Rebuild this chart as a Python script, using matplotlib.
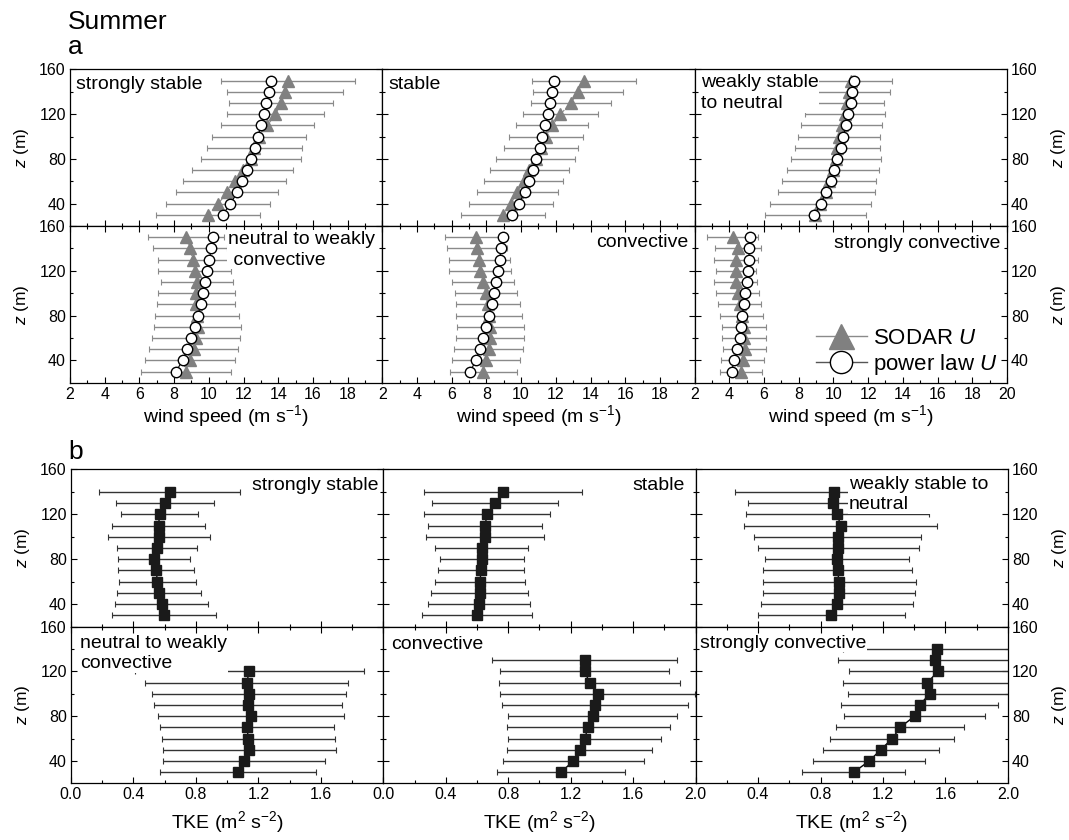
import matplotlib
matplotlib.use("Agg")
import matplotlib.pyplot as plt
from matplotlib.lines import Line2D
from matplotlib.ticker import MultipleLocator, FixedLocator

plt.rcParams['font.family'] = ['Liberation Sans', 'DejaVu Sans']
plt.rcParams['mathtext.fontset'] = 'custom'
plt.rcParams['mathtext.rm'] = 'Liberation Sans'
plt.rcParams['mathtext.it'] = 'Liberation Sans:italic'

# ---------------- data ----------------
heights_a = [30, 40, 50, 60, 70, 80, 90, 100, 110, 120, 130, 140, 150]
heights_b = [30, 40, 50, 60, 70, 80, 90, 100, 110, 120, 130, 140]

classes = ["strongly stable", "stable", "weakly stable to neutral",
           "neutral to weakly convective", "convective", "strongly convective"]

# Panel a: wind speed (m/s)
sodar_strongly_stable = [9.96, 10.54, 11.07, 11.5, 11.95, 12.42, 12.61, 12.89, 13.38, 13.84, 14.18, 14.4, 14.54]
sodar_err_strongly_stable = [3.0, 2.99, 2.94, 2.96, 2.9, 2.87, 2.74, 2.71, 2.69, 2.79, 3.0, 3.34, 3.86]
power_strongly_stable = [10.79, 11.25, 11.64, 11.92, 12.19, 12.42, 12.65, 12.82, 13.02, 13.17, 13.32, 13.46, 13.59]

sodar_stable = [8.95, 9.41, 9.78, 10.14, 10.48, 10.83, 11.15, 11.44, 11.8, 12.26, 12.88, 13.27, 13.6]
sodar_err_stable = [2.41, 2.4, 2.35, 2.3, 2.29, 2.27, 2.14, 2.14, 2.08, 2.17, 2.32, 2.6, 3.0]
power_stable = [9.47, 9.87, 10.2, 10.46, 10.68, 10.87, 11.08, 11.23, 11.4, 11.54, 11.67, 11.79, 11.88]

sodar_weakly_stable = [8.95, 9.25, 9.58, 9.75, 9.97, 10.16, 10.22, 10.33, 10.47, 10.65, 10.76, 10.9, 11.0]
sodar_err_weakly_stable = [2.91, 2.89, 2.79, 2.73, 2.66, 2.58, 2.44, 2.36, 2.34, 2.3, 2.16, 2.35, 2.4]
power_weakly_stable = [8.9, 9.28, 9.57, 9.84, 10.05, 10.22, 10.41, 10.57, 10.72, 10.86, 10.99, 11.1, 11.2]

sodar_neutral = [8.69, 8.92, 9.12, 9.24, 9.36, 9.32, 9.25, 9.29, 9.32, 9.18, 9.08, 8.91, 8.68]
sodar_err_neutral = [2.6, 2.6, 2.59, 2.53, 2.49, 2.42, 2.25, 2.22, 2.1, 2.1, 2.03, 2.12, 2.17]
power_neutral = [8.11, 8.49, 8.76, 8.99, 9.2, 9.38, 9.53, 9.66, 9.78, 9.91, 10.03, 10.14, 10.24]

sodar_convective = [7.83, 7.99, 8.13, 8.22, 8.23, 8.15, 8.07, 7.98, 7.81, 7.65, 7.6, 7.46, 7.42]
sodar_err_convective = [1.92, 1.95, 1.97, 1.95, 1.93, 1.88, 1.84, 1.78, 1.77, 1.78, 1.74, 1.73, 1.79]
power_convective = [7.07, 7.39, 7.62, 7.83, 7.99, 8.14, 8.3, 8.41, 8.53, 8.66, 8.76, 8.85, 8.93]

sodar_strongly_conv = [4.68, 4.78, 4.88, 4.86, 4.84, 4.72, 4.6, 4.48, 4.36, 4.39, 4.38, 4.5, 4.2]
sodar_err_strongly_conv = [1.22, 1.23, 1.23, 1.26, 1.28, 1.23, 1.25, 1.25, 1.23, 1.13, 1.28, 1.3, 1.47]
power_strongly_conv = [4.13, 4.28, 4.47, 4.61, 4.68, 4.74, 4.84, 4.91, 5.01, 5.07, 5.12, 5.16, 5.22]

# Panel b: TKE (m2/s2)
tke_strongly_stable = [0.595, 0.58, 0.563, 0.553, 0.546, 0.53, 0.552, 0.565, 0.561, 0.567, 0.602, 0.633]
tke_err_strongly_stable = [0.334, 0.3, 0.268, 0.246, 0.244, 0.229, 0.257, 0.327, 0.3, 0.245, 0.315, 0.451]
tke_stable = [0.6, 0.613, 0.617, 0.619, 0.626, 0.632, 0.629, 0.651, 0.652, 0.664, 0.716, 0.767]
tke_err_stable = [0.351, 0.329, 0.312, 0.287, 0.274, 0.272, 0.296, 0.376, 0.366, 0.401, 0.405, 0.506]
tke_weakly_stable = [0.87, 0.906, 0.919, 0.919, 0.909, 0.905, 0.914, 0.911, 0.928, 0.908, 0.883, 0.887]
tke_err_weakly_stable = [0.472, 0.485, 0.485, 0.49, 0.479, 0.46, 0.515, 0.535, 0.619, 0.587, 0.549, 0.632]
tke_neutral = [1.07, 1.11, 1.142, 1.135, 1.128, 1.153, 1.133, 1.141, 1.124, 1.143]
tke_err_neutral = [0.498, 0.518, 0.555, 0.555, 0.557, 0.593, 0.6, 0.62, 0.653, 0.731]
tke_convective = [1.138, 1.218, 1.257, 1.289, 1.312, 1.34, 1.355, 1.372, 1.321, 1.29, 1.289]
tke_err_convective = [0.411, 0.449, 0.465, 0.488, 0.521, 0.541, 0.595, 0.625, 0.58, 0.54, 0.59]
tke_strongly_conv = [1.013, 1.113, 1.185, 1.26, 1.31, 1.402, 1.434, 1.5, 1.485, 1.551, 1.534, 1.545]
tke_err_strongly_conv = [0.33, 0.358, 0.372, 0.397, 0.412, 0.449, 0.5, 0.526, 0.538, 0.57, 0.619, 0.6]

wind_sodar = [sodar_strongly_stable, sodar_stable, sodar_weakly_stable,
              sodar_neutral, sodar_convective, sodar_strongly_conv]
wind_err = [sodar_err_strongly_stable, sodar_err_stable, sodar_err_weakly_stable,
            sodar_err_neutral, sodar_err_convective, sodar_err_strongly_conv]
wind_power = [power_strongly_stable, power_stable, power_weakly_stable,
              power_neutral, power_convective, power_strongly_conv]
tke_vals = [tke_strongly_stable, tke_stable, tke_weakly_stable,
            tke_neutral, tke_convective, tke_strongly_conv]
tke_errs = [tke_err_strongly_stable, tke_err_stable, tke_err_weakly_stable,
            tke_err_neutral, tke_err_convective, tke_err_strongly_conv]

# ---------------- figure ----------------
W, H = 1069, 840
fig = plt.figure(figsize=(W / 100, H / 100), dpi=100)


def fr(x0, y0, x1, y1):
    return [x0 / W, 1 - y1 / H, (x1 - x0) / W, (y1 - y0) / H]


colw = 312.3
rows_a = [(69.5, 226.0), (226.0, 382.7)]
rows_b = [(469.3, 626.7), (626.7, 783.3)]
left_a = 70.0
left_b = 71.0

GRAY = '#8a8a8a'
TICK_FS = 11.5
TXT_FS = 14


def style_axes(ax, col, row, panel):
    ax.set_ylim(20, 160)
    ax.yaxis.set_major_locator(FixedLocator([40, 80, 120, 160]))
    ax.yaxis.set_minor_locator(FixedLocator([60, 100, 140]))
    ax.tick_params(which='both', direction='in', left=True, right=True,
                   bottom=True, top=(row == 1), labelsize=TICK_FS, pad=3)
    ax.tick_params(which='major', length=4, width=0.8)
    ax.tick_params(which='minor', length=2.5, width=0.8)
    for s in ax.spines.values():
        s.set_linewidth(0.9)
    if col == 0:
        ax.tick_params(labelleft=True, labelright=False)
        ax.set_ylabel('$z$ (m)', fontsize=12.5, labelpad=6)
    elif col == 2:
        ax.tick_params(labelleft=False, labelright=True)
        ax.yaxis.set_label_position('right')
        ax.set_ylabel('$z$ (m)', fontsize=12.5, rotation=90, labelpad=8)
    else:
        ax.tick_params(labelleft=False, labelright=False)
    if panel == 'a':
        ax.set_xlim(2, 20)
        ax.xaxis.set_major_locator(MultipleLocator(2))
        ax.xaxis.set_minor_locator(MultipleLocator(1))
        if row == 1:
            ax.set_xlabel('wind speed (m s$^{-1}$)', fontsize=14, labelpad=1)
            ticks = list(range(2, 21, 2))
            labs = [str(t) if (t < 20 or col == 2) else '' for t in ticks]
            ax.set_xticks(ticks)
            ax.set_xticklabels(labs)
        else:
            ax.tick_params(labelbottom=False)
    else:
        ax.set_xlim(0, 2.0)
        ticks = [0.0, 0.4, 0.8, 1.2, 1.6, 2.0]
        ax.xaxis.set_minor_locator(MultipleLocator(0.2))
        if row == 1:
            ax.set_xlabel('TKE (m$^2$ s$^{-2}$)', fontsize=14, labelpad=5)
            ax.set_xticks(ticks)
            if col == 0:
                labs = ['0.0', '0.4', '0.8', '1.2', '1.6', '']
            elif col == 1:
                labs = ['0.0', '0.4', '0.8', '1.2', '1.6', '2.0']
            else:
                labs = ['', '0.4', '0.8', '1.2', '1.6', '2.0']
            ax.set_xticklabels(labs)
        else:
            ax.set_xticks(ticks)
            ax.tick_params(labelbottom=False)


text_a = [
    dict(s='strongly stable', x=0.02, y=0.96, ha='left'),
    dict(s='stable', x=0.02, y=0.96, ha='left'),
    dict(s='weakly stable\nto neutral', x=0.02, y=0.97, ha='left'),
    dict(s='neutral to weakly\n convective', x=0.505, y=0.97, ha='left'),
    dict(s='convective', x=0.98, y=0.95, ha='right'),
    dict(s='strongly convective', x=0.98, y=0.94, ha='right'),
]
text_b = [
    dict(s='strongly stable', x=0.985, y=0.95, ha='right'),
    dict(s='stable', x=0.965, y=0.95, ha='right'),
    dict(s='weakly stable to\nneutral', x=0.49, y=0.96, ha='left'),
    dict(s='neutral to weakly\nconvective', x=0.03, y=0.95, ha='left'),
    dict(s='convective', x=0.025, y=0.94, ha='left'),
    dict(s='strongly convective', x=0.015, y=0.95, ha='left'),
]

for i in range(6):
    row, col = divmod(i, 3)
    # panel a
    y0, y1 = rows_a[row]
    x0 = left_a + col * colw
    ax = fig.add_axes(fr(x0, y0, x0 + colw, y1))
    ax.errorbar(wind_sodar[i], heights_a, xerr=wind_err[i], fmt='none',
                ecolor=GRAY, elinewidth=1.0, capsize=2, capthick=0.8, zorder=2)
    ax.plot(wind_sodar[i], heights_a, color=GRAY, lw=0.8, ls='--',
            marker='^', ms=8.5, mfc='#808080', mec='#808080', zorder=3)
    ax.plot(wind_power[i], heights_a, color='black', lw=0.8,
            marker='o', ms=7.5, mfc='white', mec='black', mew=1.0, zorder=4)
    style_axes(ax, col, row, 'a')
    t = text_a[i]
    ax.text(t['x'], t['y'], t['s'], transform=ax.transAxes, ha=t['ha'], va='top',
            fontsize=TXT_FS, linespacing=1.3, zorder=10,
            bbox=dict(facecolor='white', edgecolor='none', pad=0.5))
    if i == 5:
        h1 = Line2D([0], [0], color=GRAY, lw=1.0, marker='^', ms=18,
                    mfc='#808080', mec='#808080')
        h2 = Line2D([0], [0], color='#555555', lw=1.0, marker='o', ms=16,
                    mfc='white', mec='black', mew=1.0)
        ax.legend([h1, h2], ['SODAR $U$', 'power law $U$'], loc='lower right',
                  frameon=False, fontsize=16, handlelength=2.3, handletextpad=0.3,
                  labelspacing=0.15, borderaxespad=0.0, bbox_to_anchor=(1.0, -0.02))

    # panel b
    y0, y1 = rows_b[row]
    x0 = left_b + col * colw
    ax = fig.add_axes(fr(x0, y0, x0 + colw, y1))
    hb = heights_b[:len(tke_vals[i])]
    ax.errorbar(tke_vals[i], hb, xerr=tke_errs[i], fmt='none',
                ecolor='#333333', elinewidth=1.0, capsize=2, capthick=0.8, zorder=2)
    ax.plot(tke_vals[i], hb, color='black', lw=1.0, marker='s', ms=7.5,
            mfc='#1a1a1a', mec='#1a1a1a', zorder=4)
    style_axes(ax, col, row, 'b')
    t = text_b[i]
    ax.text(t['x'], t['y'], t['s'], transform=ax.transAxes, ha=t['ha'], va='top',
            fontsize=TXT_FS, linespacing=1.3, zorder=10,
            bbox=dict(facecolor='white', edgecolor='none', pad=0.5))

fig.text(68 / W, 1 - 22 / H, 'Summer', fontsize=19, ha='left', va='center')
fig.text(68 / W, 1 - 47 / H, 'a', fontsize=19, ha='left', va='center')
fig.text(68 / W, 1 - 452 / H, 'b', fontsize=19, ha='left', va='center')

fig.savefig('out.png', dpi=100)
